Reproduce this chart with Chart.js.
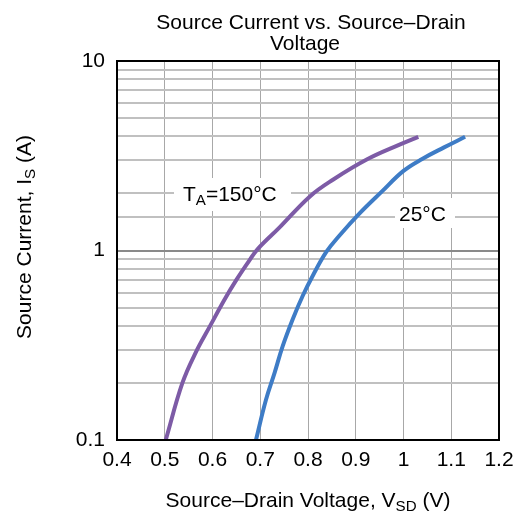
<!DOCTYPE html>
<html>
<head>
<meta charset="utf-8">
<script src="https://cdn.jsdelivr.net/npm/chart.js@4.4.1/dist/chart.umd.min.js"></script>
<style>
  html, body { margin: 0; padding: 0; background: #fff; }
  #wrap { width: 522px; height: 518px; }
</style>
</head>
<body>
<div id="wrap"><canvas id="chart" width="522" height="518"></canvas></div>
<script>
// values
const hotVoltage = [0.502, 0.537, 0.565, 0.595, 0.625, 0.650, 0.677, 0.695, 0.740, 0.804, 0.853, 0.923, 0.993, 1.031];
const hotCurrent = [0.1, 0.2, 0.29, 0.40, 0.55, 0.70, 0.885, 1.02, 1.32, 1.93, 2.37, 3.02, 3.63, 3.98];
const roomVoltage = [0.691, 0.712, 0.730, 0.747, 0.768, 0.789, 0.810, 0.838, 0.866, 0.908, 0.955, 1.000, 1.040, 1.085, 1.129];
const roomCurrent = [0.1, 0.163, 0.226, 0.313, 0.434, 0.577, 0.736, 0.98, 1.2, 1.57, 2.05, 2.63, 3.05, 3.5, 3.98];
const yLabels = [0.1, 1, 10];

const font = '"Liberation Sans", Arial, sans-serif';
const size = 21;

function toPoints(xs, ys) {
    return xs.map((x, i) => ({ x: x, y: ys[i] }));
}

function isLabel(v) {
    return yLabels.some(l => Math.abs(v - l) < l * 1e-6);
}

// text with optional subscript piece: parts = [[text, sub?], ...]
function partsWidth(ctx, parts, sz) {
    let w = 0;
    parts.forEach(p => {
        ctx.font = (p[1] ? sz * 0.72 : sz) + 'px ' + font;
        w += ctx.measureText(p[0]).width;
    });
    return w;
}

function drawParts(ctx, parts, x, y, sz) {
    parts.forEach(p => {
        ctx.font = (p[1] ? sz * 0.72 : sz) + 'px ' + font;
        ctx.fillText(p[0], x, p[1] ? y + sz * 0.2 : y);
        x += ctx.measureText(p[0]).width;
    });
}

const extras = {
    id: 'extras',
    beforeDatasetsDraw(chart) {
        const ctx = chart.ctx;
        ctx.save();
        // label boxes over the grid
        ctx.fillStyle = '#fff';
        ctx.fillRect(174, 178, 117, 33);
        ctx.fillRect(395, 198, 60, 30);
        ctx.fillStyle = '#000';
        ctx.textBaseline = 'alphabetic';
        ctx.textAlign = 'left';
        drawParts(ctx, [['T'], ['A', true], ['=150°C']], 183, 201, size);
        drawParts(ctx, [['25°C']], 399, 221, size);
        ctx.restore();
    },
    afterDraw(chart) {
        const ctx = chart.ctx;
        const a = chart.chartArea;
        ctx.save();
        ctx.strokeStyle = '#000';
        ctx.lineWidth = 2;
        ctx.strokeRect(a.left, a.top, a.right - a.left, a.bottom - a.top);

        ctx.fillStyle = '#000';
        ctx.textAlign = 'center';
        ctx.textBaseline = 'alphabetic';
        ctx.font = size + 'px ' + font;
        const cx = (a.left + a.right) / 2;
        ctx.fillText('Source Current vs. Source\u2013Drain', cx + 3, 29);
        ctx.fillText('Voltage', cx - 3, 50);

        ctx.textAlign = 'left';
        const xt = [['Source\u2013Drain Voltage, V'], ['SD', true], [' (V)']];
        const wx = partsWidth(ctx, xt, size);
        drawParts(ctx, xt, cx - wx / 2, 507, size);

        ctx.translate(31, 237);
        ctx.rotate(-Math.PI / 2);
        const yt = [['Source Current, I'], ['S', true], [' (A)']];
        const wy = partsWidth(ctx, yt, size);
        drawParts(ctx, yt, -wy / 2, 0, size);
        ctx.restore();
    }
};

new Chart(document.getElementById('chart'), {
    type: 'line',
    data: {
        datasets: [{
            label: 'TA=150°C',
            data: toPoints(hotVoltage, hotCurrent),
            borderColor: '#7d5ba6',
            borderWidth: 4,
            pointRadius: 0,
            tension: 0.4,
            fill: false
        }, {
            label: '25°C',
            data: toPoints(roomVoltage, roomCurrent),
            borderColor: '#3e7cc6',
            borderWidth: 4,
            pointRadius: 0,
            tension: 0.4,
            fill: false
        }]
    },
    options: {
        responsive: false,
        animation: false,
        events: [],
        layout: { padding: { top: 61, right: 23, left: 0, bottom: 0 } },
        plugins: {
            legend: { display: false },
            title: { display: false },
            tooltip: { enabled: false }
        },
        scales: {
            x: {
                type: 'linear',
                min: 0.4,
                max: 1.2,
                afterFit(s) { s.height = 78; },
                ticks: {
                    stepSize: 0.1,
                    color: '#000',
                    padding: 8,
                    font: { family: font, size: size },
                    callback: v => Math.round(v * 10) / 10
                },
                grid: { color: '#a8a8a8', lineWidth: 1, tickLength: 0 },
                border: { display: false }
            },
            y: {
                type: 'logarithmic',
                min: 0.1,
                max: 10,
                afterFit(s) { s.width = 117; },
                ticks: {
                    autoSkip: false,
                    color: '#000',
                    padding: 12,
                    font: { family: font, size: size },
                    callback: v => isLabel(v) ? String(v) : ''
                },
                grid: {
                    tickLength: 0,
                    lineWidth: 2,
                    color: c => (c.tick && isLabel(c.tick.value)) ? '#8a8a8a' : '#c0c0c0'
                },
                border: { display: false }
            }
        }
    },
    plugins: [extras]
});
</script>
</body>
</html>
